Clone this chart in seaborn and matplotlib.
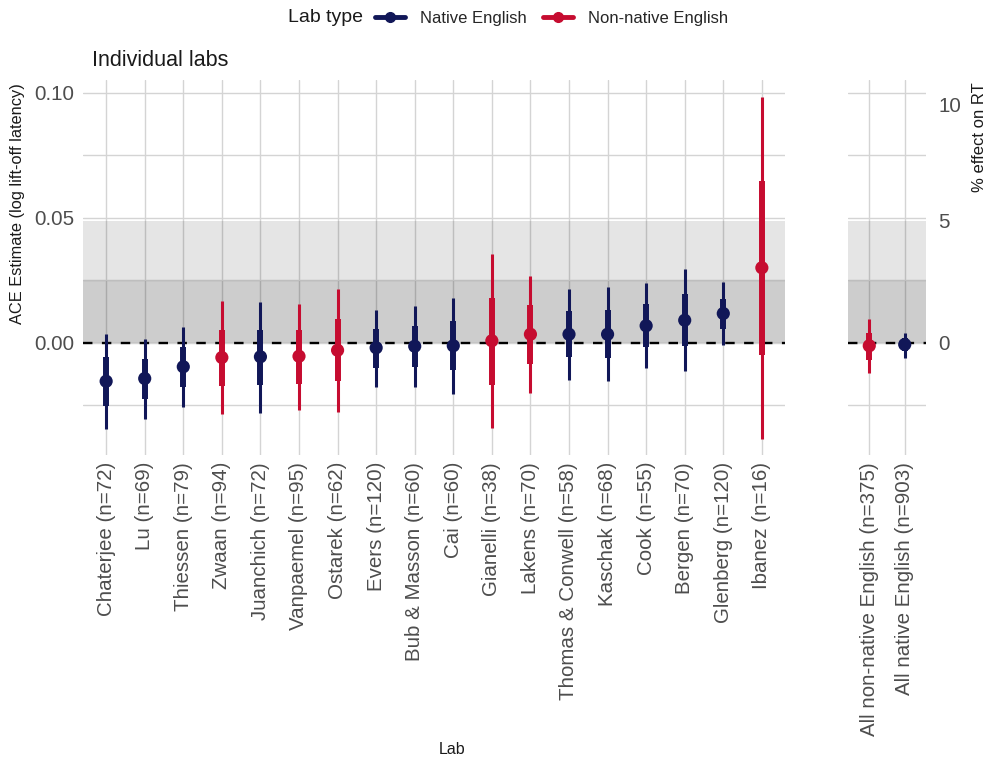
import numpy as np
import pandas as pd
import matplotlib
matplotlib.use("Agg")
import matplotlib.pyplot as plt
import seaborn as sns
from matplotlib.lines import Line2D

# ---------------- data ----------------
labs = ["Chaterjee (n=72)", "Lu (n=69)", "Thiessen (n=79)", "Zwaan (n=94)",
        "Juanchich (n=72)", "Vanpaemel (n=95)", "Ostarek (n=62)", "Evers (n=120)",
        "Bub & Masson (n=60)", "Cai (n=60)", "Gianelli (n=38)", "Lakens (n=70)",
        "Thomas & Conwell (n=58)", "Kaschak (n=68)", "Cook (n=55)", "Bergen (n=70)",
        "Glenberg (n=120)", "Ibanez (n=16)"]
lab_type = ["Native English", "Native English", "Native English", "Non-native English",
            "Native English", "Non-native English", "Non-native English", "Native English",
            "Native English", "Native English", "Non-native English", "Non-native English",
            "Native English", "Native English", "Native English", "Native English",
            "Native English", "Non-native English"]
est = [-0.0155, -0.0144, -0.0097, -0.0060, -0.0057, -0.0055, -0.0031, -0.0021,
       -0.0015, -0.0013, 0.0007, 0.0033, 0.0033, 0.0033, 0.0067, 0.0089, 0.0116, 0.0299]
lo50 = [-0.0253, -0.0224, -0.0177, -0.0173, -0.0171, -0.0164, -0.0153, -0.0100,
        -0.0097, -0.0108, -0.0171, -0.0087, -0.0057, -0.0060, -0.0017, -0.0013, 0.0056, -0.0051]
hi50 = [-0.0057, -0.0064, -0.0017, 0.0052, 0.0052, 0.0052, 0.0093, 0.0056,
        0.0067, 0.0087, 0.0180, 0.0149, 0.0125, 0.0129, 0.0153, 0.0193, 0.0176, 0.0647]
lo95 = [-0.0347, -0.0307, -0.0257, -0.0287, -0.0280, -0.0271, -0.0277, -0.0177,
        -0.0177, -0.0204, -0.0340, -0.0200, -0.0148, -0.0153, -0.0101, -0.0113, -0.0008, -0.0387]
hi95 = [0.0036, 0.0016, 0.0063, 0.0167, 0.0163, 0.0156, 0.0216, 0.0132,
        0.0147, 0.0180, 0.0353, 0.0265, 0.0216, 0.0223, 0.0239, 0.0293, 0.0243, 0.0983]

overall_labs = ["All non-native English (n=375)", "All native English (n=903)"]
overall_type = ["Non-native English", "Native English"]
overall_est = [-0.0013, -0.0008]
overall_lo50 = [-0.0068, -0.0033]
overall_hi50 = [0.0039, 0.0019]
overall_lo95 = [-0.0121, -0.0060]
overall_hi95 = [0.0093, 0.0039]

pct_ticks = [0, 5, 10]
type_order = ["Native English", "Non-native English"]
palette = {"Native English": "#111758", "Non-native English": "#C60C30"}

df_labs = pd.DataFrame({"lab": labs, "type": lab_type, "est": est,
                        "lo50": lo50, "hi50": hi50, "lo95": lo95, "hi95": hi95})
df_all = pd.DataFrame({"lab": overall_labs, "type": overall_type, "est": overall_est,
                       "lo50": overall_lo50, "hi50": overall_hi50,
                       "lo95": overall_lo95, "hi95": overall_hi95})

# ---------------- style ----------------
sns.set_theme(style="whitegrid")
plt.rcParams["font.family"] = ["Liberation Sans", "DejaVu Sans"]
TXT = "#4d4d4d"
TICK_FS = 14.8

W, H = 985, 762
fig = plt.figure(figsize=(W / 100, H / 100), dpi=100)
top_px, bot_px = 80, 455
ax1 = fig.add_axes([83 / W, 1 - bot_px / H, (785 - 83) / W, (bot_px - top_px) / H])
ax2 = fig.add_axes([848 / W, 1 - bot_px / H, (926 - 848) / W, (bot_px - top_px) / H])

YLIM = (-0.045, 0.105)


def draw(ax, df):
    n = len(df)
    ax.set_axisbelow(True)
    ax.axhspan(0, np.log(1.05), color="black", alpha=0.10, lw=0, zorder=1)
    ax.axhspan(0, np.log(1.025), color="black", alpha=0.10, lw=0, zorder=1)
    ax.axhline(0, color="black", lw=1.7, ls=(0, (4, 4)), zorder=2)
    sns.scatterplot(data=df, x="lab", y="est", hue="type", hue_order=type_order,
                    palette=palette, s=90, linewidth=0, legend=False, ax=ax, zorder=5)
    for i, r in df.iterrows():
        c = palette[r["type"]]
        ax.vlines(i, r["lo95"], r["hi95"], color=c, lw=2.2, zorder=3)
        ax.vlines(i, r["lo50"], r["hi50"], color=c, lw=4.3, zorder=4)
    ax.set_xlim(-0.6, n - 1 + 0.6)
    ax.set_ylim(*YLIM)
    ax.set_yticks([0, 0.05, 0.10])
    ax.set_yticks([-0.025, 0.025, 0.075], minor=True)
    ax.grid(True, which="both", color="#d4d4d4", lw=1.0)
    ax.set_xlabel("")
    ax.set_ylabel("")
    for s in ax.spines.values():
        s.set_visible(False)
    ax.tick_params(axis="both", which="both", length=0)
    ax.tick_params(axis="x", labelrotation=90, labelsize=TICK_FS, labelcolor=TXT, pad=5)
    ax.tick_params(axis="y", labelsize=TICK_FS, labelcolor=TXT, pad=6)
    for lab in ax.get_xticklabels():
        lab.set_ha("center")
        lab.set_va("top")


draw(ax1, df_labs)
ax1.set_yticklabels(["0.00", "0.05", "0.10"])
draw(ax2, df_all)
ax2.set_yticklabels([])

ax2r = ax2.twinx()
ax2r.set_ylim(*YLIM)
ax2r.set_yticks([np.log(1 + p / 100) for p in pct_ticks])
ax2r.set_yticklabels([str(p) for p in pct_ticks])
ax2r.grid(False)
for s in ax2r.spines.values():
    s.set_visible(False)
ax2r.tick_params(axis="y", length=0, labelsize=TICK_FS, labelcolor=TXT, pad=9)

# titles / labels
ax1.text(0.013, 1.025, "Individual labs", transform=ax1.transAxes, fontsize=15.5,
         color="#1a1a1a", ha="left", va="bottom")
fig.text(18 / W, 1 - 204 / H, "ACE Estimate (log lift-off latency)", rotation=90,
         fontsize=11.8, ha="center", va="center", color="#1a1a1a")
fig.text(979 / W, 1 - 137 / H, "% effect on RT", rotation=90,
         fontsize=12, ha="center", va="center", color="#1a1a1a")
fig.text(452 / W, 1 - 750 / H, "Lab", fontsize=11.5, ha="center", va="center",
         color="#1a1a1a")

# legend
fig.text(288 / W, 1 - 18 / H, "Lab type", fontsize=14, ha="left", va="center",
         color="#1a1a1a")
handles = [Line2D([0], [0], color=palette[t], lw=3.5, marker="o", markersize=7)
           for t in type_order]
fig.legend(handles, type_order, ncol=2, loc="center left",
           bbox_to_anchor=(375 / W, 1 - 18 / H), frameon=False, fontsize=12,
           handlelength=1.8, columnspacing=1.0, handletextpad=0.9,
           borderaxespad=0, borderpad=0)

fig.savefig("out.png", dpi=100)
